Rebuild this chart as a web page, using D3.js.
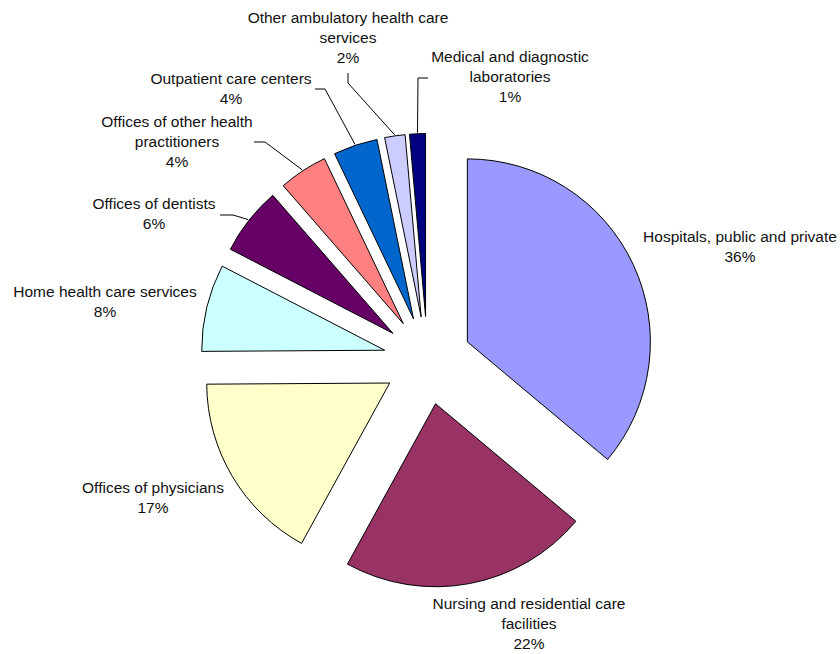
<!DOCTYPE html>
<html>
<head>
<meta charset="utf-8">
<script src="https://cdn.jsdelivr.net/npm/d3@7"></script>
<style>
  html, body { margin: 0; padding: 0; background: #fff; }
  svg { display: block; }
  text { font-family: "Liberation Sans", Arial, Helvetica, sans-serif; font-size: 15.5px; fill: #111; }
</style>
</head>
<body>
<svg id="chart" width="840" height="654"></svg>
<script>
// ---- data ----
const categories = [
  "Hospitals, public and private",
  "Nursing and residential care facilities",
  "Offices of physicians",
  "Home health care services",
  "Offices of dentists",
  "Offices of other health practitioners",
  "Outpatient care centers",
  "Other ambulatory health care services",
  "Medical and diagnostic laboratories"
];
// shares (%); labels show them rounded
const values = [36.1, 21.9, 16.9, 7.7, 6.0, 4.3, 3.9, 1.8, 1.4];
const labelLines = [
  ["Hospitals, public and private"],
  ["Nursing and residential care", "facilities"],
  ["Offices of physicians"],
  ["Home health care services"],
  ["Offices of dentists"],
  ["Offices of other health", "practitioners"],
  ["Outpatient care centers"],
  ["Other ambulatory health care", "services"],
  ["Medical and diagnostic", "laboratories"]
];
const colors = ["#9999FF", "#993366", "#FFFFCC", "#CCFFFF", "#660066", "#FF8080", "#0066CC", "#CCCCFF", "#000080"];

// ---- layout (positions only) ----
const cx = 427.5, cy = 360.5, radius = 183, explode = 44, lineH = 20;
const labelPos = [
  {x: 740, y: 242, leader: null},
  {x: 529, y: 609, leader: null},
  {x: 153, y: 493, leader: null},
  {x: 105, y: 297, leader: null},
  {x: 154, y: 209, leader: [[220, 215], [233, 215]]},
  {x: 177, y: 127, leader: [[254, 142], [265, 142]]},
  {x: 231, y: 84,  leader: [[315, 89], [325, 89]]},
  {x: 348, y: 23,  leader: [[348, 73], [348, 83]]},
  {x: 510, y: 62,  leader: [[428, 78], [418, 78]]}
];

const svg = d3.select("#chart");
const pie = d3.pie().sort(null).value(d => d).startAngle(0).endAngle(2 * Math.PI);
const arcs = pie(values);
const arc = d3.arc().innerRadius(0).outerRadius(radius);

const g = svg.append("g").attr("transform", `translate(${cx},${cy})`);

function offset(d) {
  const a = (d.startAngle + d.endAngle) / 2;
  return [explode * Math.sin(a), -explode * Math.cos(a)];
}

g.selectAll("path.slice")
  .data(arcs)
  .join("path")
  .attr("class", "slice")
  .attr("d", arc)
  .attr("transform", d => { const o = offset(d); return `translate(${o[0]},${o[1]})`; })
  .attr("fill", (d, i) => colors[i])
  .attr("stroke", "#000")
  .attr("stroke-width", 1)
  .attr("stroke-linejoin", "round");

// leader lines
arcs.forEach((d, i) => {
  const lp = labelPos[i];
  if (!lp.leader) return;
  const a = (d.startAngle + d.endAngle) / 2;
  const o = offset(d);
  const end = [cx + o[0] + (radius + 1) * Math.sin(a), cy + o[1] - (radius + 1) * Math.cos(a)];
  const pts = lp.leader.concat([end]);
  svg.append("path")
    .attr("d", d3.line()(pts))
    .attr("fill", "none")
    .attr("stroke", "#000")
    .attr("stroke-width", 1);
});

// labels
arcs.forEach((d, i) => {
  const lp = labelPos[i];
  const lines = labelLines[i].concat([Math.round(values[i]) + "%"]);
  const t = svg.append("text")
    .attr("text-anchor", "middle")
    .attr("x", lp.x)
    .attr("y", lp.y);
  lines.forEach((ln, k) => {
    t.append("tspan").attr("x", lp.x).attr("y", lp.y + k * lineH).text(ln);
  });
});
</script>
</body>
</html>
